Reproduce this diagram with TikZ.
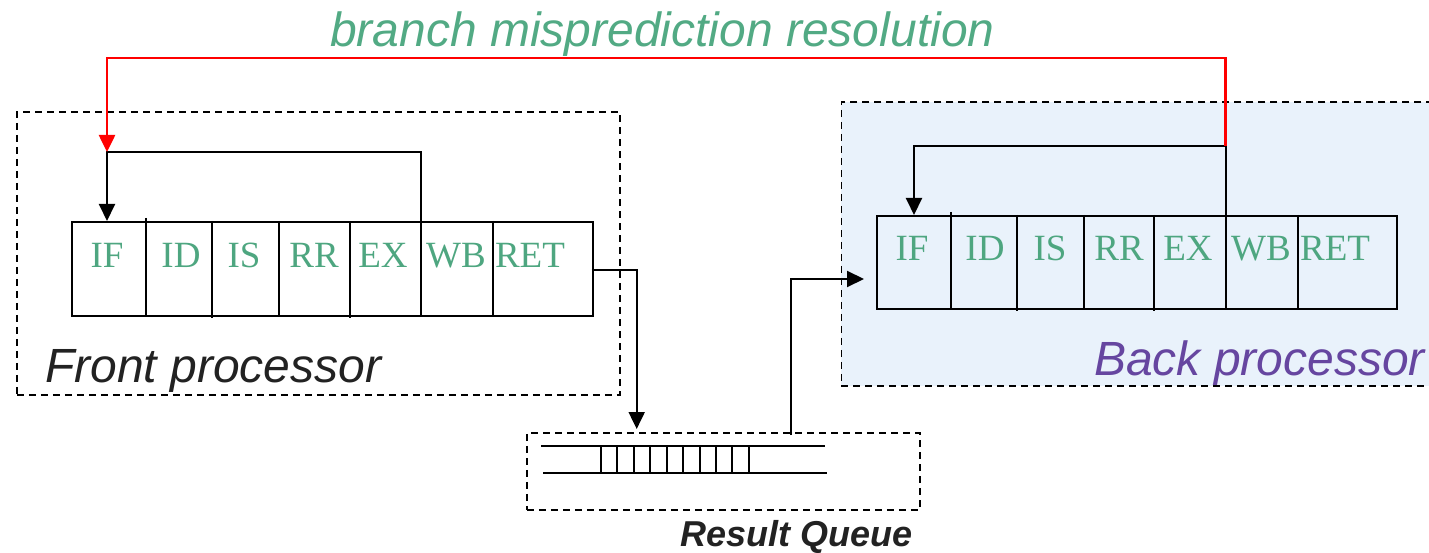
\documentclass[tikz,border=0pt]{standalone}
\usepackage{fontspec}
\setmainfont{Liberation Serif}
\setsansfont{Liberation Sans}
\usetikzlibrary{arrows.meta}
\definecolor{stagegreen}{RGB}{78,166,128}
\definecolor{titlegreen}{RGB}{82,170,132}
\definecolor{backpurple}{RGB}{102,70,160}
\definecolor{backfill}{RGB}{233,242,251}
\definecolor{labelgray}{RGB}{34,34,34}
\definecolor{redline}{RGB}{255,0,0}
\begin{document}
\begin{tikzpicture}[x=1pt,y=-1pt,
  dashbox/.style={draw=black, line width=1.8pt, dash pattern=on 7pt off 5pt, anchor=north west, inner sep=0pt},
  pipebox/.style={draw=black, line width=2.2pt, anchor=north west, inner sep=0pt},
  divider/.style={draw=black, line width=2pt},
  stagelbl/.style={text=stagegreen, font=\fontsize{37}{37}\selectfont, inner sep=0pt, anchor=base},
  wire/.style={draw=black, line width=2pt},
  redwire/.style={draw=redline, line width=2.6pt},
  tipb/.style={-{Triangle[length=17pt,width=16pt]}},
  tipr/.style={-{Triangle[length=17pt,width=16pt,fill=redline]}},
  qline/.style={draw=black, line width=1.8pt},
  bigsans/.style={font=\sffamily\itshape\fontsize{48}{50}\selectfont, inner sep=0pt, anchor=base west},
]
\useasboundingbox (0,0) rectangle (1429,553);

% containers
\node[dashbox, fill=backfill, minimum width=592pt, minimum height=284pt] (backbox) at (840.5,101) {};
\node[dashbox, minimum width=603pt, minimum height=283pt] (frontbox) at (16,111) {};
\node[dashbox, minimum width=393pt, minimum height=77pt] (queuebox) at (526,432) {};

% pipelines
\node[pipebox, minimum width=521pt, minimum height=94pt] (frontpipe) at (70.5,221) {};
\node[pipebox, minimum width=520pt, minimum height=93pt] (backpipe) at (876,215) {};

% dividers front
\draw[divider] (146,218) -- (146,315);
\draw[divider] (211.5,221) -- (211.5,318);
\draw[divider] (278.5,221) -- (278.5,315);
\draw[divider] (349.5,221) -- (349.5,318);
\draw[divider] (421,221) -- (421,315);
\draw[divider] (493,221) -- (493,315);
% dividers back
\draw[divider] (950.5,212) -- (950.5,308);
\draw[divider] (1017,215) -- (1017,311);
\draw[divider] (1083.7,215) -- (1083.7,308);
\draw[divider] (1154.4,215) -- (1154.4,311);
\draw[divider] (1225.5,215) -- (1225.5,308);
\draw[divider] (1298.4,215) -- (1298.4,308);

% stage labels
\foreach \x/\t/\n in {107/IF/fIF,181/ID/fID,244/IS/fIS,314/RR/fRR,383/EX/fEX,456/WB/fWB,530/RET/fRET}
  \node[stagelbl] (\n) at (\x,268) {\t};
\foreach \x/\t/\n in {912/IF/bIF,985/ID/bID,1050/IS/bIS,1119/RR/bRR,1188/EX/bEX,1261/WB/bWB,1335/RET/bRET}
  \node[stagelbl] (\n) at (\x,261) {\t};

% queue
\draw[qline] (541,446) -- (825,446);
\draw[qline] (543,473) -- (827,473);
\foreach \x in {601,617,634,650,667,683,700,716,732,749}
  \draw[qline] (\x,446) -- (\x,473);

% coordinates
\coordinate (fj) at (107,152);
\coordinate (fw) at (421,221);
\coordinate (fif) at (107,221);
\coordinate (fret) at (591.5,270.5);
\coordinate (qin) at (636.7,429);
\coordinate (qout) at (791,435);
\coordinate (bin) at (864,279);
\coordinate (bj) at (1225.5,146);
\coordinate (bw) at (1225.5,215);
\coordinate (bk) at (914,146);
\coordinate (bif) at (914,215);

% feedback loops
\draw[wire, tipb] (fw) |- (fj) -- (fif);
\draw[wire, tipb] (bw) -- (bj) -- (bk) -- (bif);
% misprediction resolution
\draw[redwire, tipr] (bj) -- ++(0,-88) -| (fj);
% queue connections
\draw[wire, tipb] (fret) -| (qin);
\draw[wire, tipb] (qout) |- (bin);

% texts
\node[bigsans, text=titlegreen] (title) at (330,47) {branch misprediction resolution};
\node[bigsans, text=labelgray] (frontlbl) at (45,382) {Front processor};
\node[bigsans, text=backpurple] (backlbl) at (1094,375) {Back processor};
\node[inner sep=0pt, anchor=base west, text=labelgray, font=\sffamily\bfseries\itshape\fontsize{36}{40}\selectfont] (queuelbl) at (680,546) {Result Queue};
\end{tikzpicture}
\end{document}
